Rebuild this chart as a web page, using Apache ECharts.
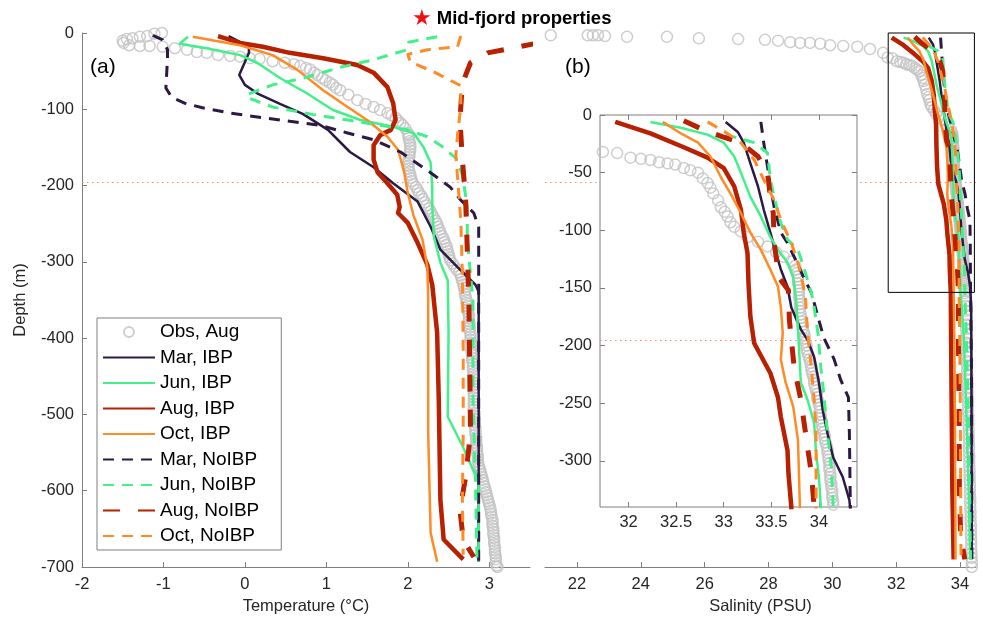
<!DOCTYPE html>
<html>
<head>
<meta charset="utf-8">
<script src="https://cdn.jsdelivr.net/npm/echarts@6/dist/echarts.min.js"></script>
<style>
html,body{margin:0;padding:0;background:#fff;}
#chart{width:983px;height:620px;}
</style>
</head>
<body>
<div id="chart"></div>
<script>
// ---------- Series names ----------
const seriesNames = ['Mar, IBP', 'Jun, IBP', 'Aug, IBP', 'Oct, IBP',
                     'Mar, NoIBP', 'Jun, NoIBP', 'Aug, NoIBP', 'Oct, NoIBP'];
const obsName = 'Obs, Aug';

// ---------- Tick values ----------
const tempTicks = [-2, -1, 0, 1, 2, 3];
const salTicks = [22, 24, 26, 28, 30, 32, 34];
const insetSalTicks = [32, 32.5, 33, 33.5, 34];
const insetDepthTicks = [-300, -250, -200, -150, -100, -50, 0];

// Reference depth (dotted line) and zoom window of the inset
const refDepth = -195;
const zoomBox = [[31.75, 0], [34.45, 0], [34.45, -340], [31.75, -340], [31.75, 0]];

// ---------- Observations, August: [value, depth] ----------
const obsTemp = [
  [-1.02,0],[-1.11,-1],[-1.20,-4],[-1.29,-5],[-1.38,-7],[-1.45,-8],[-1.50,-10],[-1.49,-13],[-1.42,-16],
  [-1.29,-17],[-1.17,-17],[-1.01,-18],[-0.86,-20],[-0.71,-22],[-0.59,-25],[-0.47,-26],[-0.33,-29],
  [-0.18,-30],[-0.06,-31],[0.06,-33],[0.18,-34],[0.34,-37],[0.49,-39],[0.60,-41],[0.68,-43],[0.75,-46],
  [0.80,-48],[0.85,-52],[0.89,-55],[0.95,-59],[0.99,-62],[1.04,-65],[1.08,-68],[1.12,-72],[1.17,-75],
  [1.27,-81],[1.38,-88],[1.48,-93],[1.58,-97],[1.66,-101],[1.75,-105],[1.80,-108],[1.85,-111],
  [1.88,-115],[1.91,-118],[1.94,-121],[1.97,-125],[2.00,-131],
  [2.01,-134],[2.01,-138],[2.02,-142],[2.03,-146],[2.03,-150],[2.03,-154],[2.02,-158],[2.02,-162],
  [2.01,-166],[2.01,-170],[2.01,-174],[2.01,-178],[2.02,-182],[2.03,-186],[2.04,-190],[2.05,-194],
  [2.07,-198],[2.10,-202],[2.12,-206],[2.14,-210],[2.17,-214],[2.19,-218],[2.21,-222],[2.23,-226],
  [2.26,-230],[2.28,-234],[2.30,-238],[2.32,-242],[2.34,-246],[2.36,-250],[2.37,-254],[2.39,-258],
  [2.40,-262],[2.42,-266],[2.44,-270],[2.45,-274],[2.47,-278],[2.48,-282],[2.49,-286],[2.50,-290],
  [2.51,-294],[2.52,-298],[2.55,-302],[2.57,-306],[2.60,-310],[2.63,-314],[2.65,-318],[2.66,-322],
  [2.67,-326],[2.68,-330],[2.69,-334],[2.70,-338],[2.70,-342],[2.71,-346],[2.72,-350],[2.72,-354],
  [2.73,-358],[2.74,-362],[2.74,-366],[2.75,-370],[2.75,-374],[2.75,-378],[2.76,-382],[2.76,-386],
  [2.76,-390],[2.77,-394],[2.77,-398],[2.77,-402],[2.78,-406],[2.78,-410],[2.78,-414],[2.78,-418],
  [2.79,-422],[2.79,-426],[2.79,-430],[2.80,-434],[2.80,-438],[2.80,-442],[2.81,-446],[2.81,-450],
  [2.81,-454],[2.81,-458],[2.81,-462],[2.81,-466],[2.81,-470],[2.81,-474],[2.81,-478],[2.81,-482],
  [2.81,-486],[2.81,-490],[2.81,-494],[2.82,-498],[2.82,-502],[2.82,-506],[2.82,-510],[2.82,-514],
  [2.83,-518],[2.83,-522],[2.83,-526],[2.84,-530],[2.84,-534],[2.84,-538],[2.85,-542],[2.85,-546],
  [2.85,-550],[2.86,-554],[2.86,-558],[2.86,-562],[2.87,-566],[2.88,-570],[2.89,-574],[2.90,-578],
  [2.91,-582],[2.92,-586],[2.93,-590],[2.94,-594],[2.95,-598],[2.96,-602],[2.97,-606],[2.98,-610],
  [2.99,-614],[3.00,-618],[3.01,-622],[3.02,-626],[3.02,-630],[3.03,-634],[3.04,-638],[3.04,-642],
  [3.04,-646],[3.05,-650],[3.05,-654],[3.05,-658],[3.06,-662],[3.06,-666],[3.06,-670],[3.07,-674],
  [3.07,-678],[3.07,-682],[3.08,-686],[3.08,-690],[3.08,-694],[3.09,-698],[3.10,-700]
];

const obsSal = [
  [21.18,-3],[22.34,-3],[22.50,-3],[22.66,-3],[22.88,-4],[23.57,-5],[24.82,-5],[25.82,-7],[27.05,-8],
  [27.89,-9],[28.30,-10],[28.68,-12],[28.99,-13],[29.30,-13],[29.62,-14],[29.93,-16],[30.34,-17],
  [30.78,-18],[31.18,-21],[31.59,-26],
  [31.73,-32],[31.88,-33],[32.02,-37],[32.13,-38],[32.23,-39],[32.32,-41],[32.41,-42],[32.49,-43],
  [32.58,-46],[32.65,-48],[32.73,-50],[32.78,-55],[32.83,-59],[32.86,-63],[32.89,-68],[32.94,-74],
  [32.97,-80],[33.01,-84],[33.04,-88],[33.07,-93],[33.11,-97],[33.18,-101],[33.25,-106],[33.36,-110],
  [33.46,-114],[33.55,-119],[33.63,-123],[33.71,-127],
  [33.75,-131],[33.76,-134],[33.77,-137],[33.78,-140],[33.78,-143],[33.78,-146],[33.79,-149],
  [33.79,-152],[33.79,-155],[33.79,-158],[33.80,-161],[33.80,-164],[33.80,-167],[33.80,-170],
  [33.81,-173],[33.81,-176],[33.82,-179],[33.83,-182],[33.83,-185],[33.84,-188],[33.85,-191],
  [33.85,-194],[33.86,-197],[33.87,-200],[33.87,-203],[33.88,-206],[33.89,-209],[33.90,-212],
  [33.91,-215],[33.92,-218],[33.92,-221],[33.93,-224],[33.94,-227],[33.95,-230],[33.95,-233],
  [33.96,-236],[33.97,-239],[33.98,-242],[33.98,-245],[33.99,-248],[34.00,-251],[34.01,-254],
  [34.01,-257],[34.02,-260],[34.02,-263],[34.03,-266],[34.03,-269],[34.04,-272],[34.05,-275],
  [34.06,-278],[34.06,-281],[34.07,-284],[34.08,-287],[34.09,-290],[34.09,-293],[34.10,-296],
  [34.10,-299],[34.11,-302],[34.11,-305],[34.11,-308],[34.12,-311],[34.12,-314],[34.12,-317],
  [34.13,-320],[34.13,-323],[34.14,-326],[34.14,-329],[34.14,-332],[34.15,-335],[34.15,-338],
  [34.15,-341],
  [34.16,-346],[34.16,-352],[34.17,-358],[34.17,-364],[34.18,-370],[34.18,-376],[34.19,-382],
  [34.19,-388],[34.20,-394],[34.20,-400],[34.20,-406],[34.21,-412],[34.21,-418],[34.21,-424],
  [34.22,-430],[34.22,-436],[34.22,-442],[34.23,-448],[34.23,-454],[34.23,-460],[34.24,-466],
  [34.24,-472],[34.24,-478],[34.25,-484],[34.25,-490],[34.25,-496],[34.26,-502],[34.26,-508],
  [34.26,-514],[34.27,-520],[34.27,-526],[34.27,-532],[34.28,-538],[34.28,-544],[34.28,-550],
  [34.29,-556],[34.29,-562],[34.29,-568],[34.30,-574],[34.30,-580],[34.30,-586],[34.31,-592],
  [34.31,-598],[34.31,-604],[34.32,-610],[34.32,-616],[34.32,-622],[34.33,-628],[34.33,-634],
  [34.33,-640],[34.34,-646],[34.34,-652],[34.34,-658],[34.35,-664],[34.35,-670],[34.35,-676],
  [34.36,-682],[34.36,-688],[34.37,-694],[34.37,-700]
];

// ---------- Model temperature profiles: [T (°C), depth (m)] ----------
const tMarIBP = [[-0.20,-4],[0.05,-18],[0.05,-26],[-0.07,-55],[0.00,-68],[0.15,-79],[0.43,-93],[0.71,-106],
  [1.02,-127],[1.29,-156],[1.58,-176],[1.82,-197],[2.12,-221],[2.28,-254],[2.40,-284],[2.61,-307],
  [2.83,-330],[2.87,-339],[2.87,-693]];
const tJunIBP = [[-0.70,-5],[-0.80,-14],[-0.47,-20],[-0.06,-29],[0.15,-39],[0.43,-59],[0.76,-79],[1.08,-101],
  [1.42,-114],[1.82,-123],[2.07,-131],[2.19,-149],[2.28,-170],[2.30,-202],[2.30,-228],[2.32,-267],
  [2.40,-301],[2.49,-324],[2.50,-393],[2.49,-503],[2.68,-543],[2.87,-590],[2.87,-693]];
const tAugIBP = [[-0.33,-4],[-0.06,-13],[0.22,-18],[0.55,-26],[0.96,-33],[1.38,-42],[1.58,-52],[1.75,-71],
  [1.82,-92],[1.85,-114],[1.79,-127],[1.66,-134],[1.58,-147],[1.58,-166],[1.63,-183],[1.75,-197],
  [1.87,-212],[1.90,-228],[1.88,-236],[2.00,-249],[2.12,-275],[2.24,-304],[2.30,-330],[2.36,-393],
  [2.38,-481],[2.40,-612],[2.44,-664],[2.68,-690]];
const tOctIBP = [[-0.64,-5],[-0.06,-16],[0.34,-29],[0.64,-48],[0.96,-75],[1.26,-97],[1.50,-114],[1.75,-136],
  [1.88,-153],[1.95,-180],[2.00,-210],[2.07,-239],[2.18,-271],[2.24,-307],[2.25,-350],[2.25,-524],
  [2.28,-655],[2.36,-693]];
const tMarNoIBP = [[-1.13,-3],[-1.01,-9],[-0.95,-22],[-0.95,-33],[-0.97,-72],[-0.90,-84],[-0.74,-92],
  [-0.52,-98],[-0.18,-105],[0.22,-111],[0.64,-117],[0.92,-121],[1.26,-131],[1.58,-140],[1.91,-156],
  [2.24,-180],[2.52,-202],[2.65,-219],[2.81,-236],[2.87,-254],[2.87,-311],[2.87,-693]];
const tJunNoIBP = [[2.36,-5],[2.01,-12],[1.99,-22],[1.58,-35],[1.17,-45],[0.76,-58],[0.34,-68],[0.02,-81],
  [0.06,-86],[0.34,-97],[0.84,-107],[1.26,-114],[1.66,-121],[2.00,-127],[2.24,-136],[2.40,-147],
  [2.59,-164],[2.67,-186],[2.73,-228],[2.73,-271],[2.80,-350],[2.80,-481],[2.83,-586],[2.85,-693]];
const tAugNoIBP = [[3.60,-13],[3.23,-21],[2.98,-26],[2.77,-39],[2.67,-66],[2.64,-114],[2.67,-166],
  [2.71,-219],[2.73,-284],[2.75,-350],[2.77,-524],[2.71,-582],[2.64,-625],[2.68,-664],[2.81,-687]];
const tOctNoIBP = [[2.65,-4],[2.61,-18],[2.24,-22],[2.00,-28],[2.03,-38],[2.32,-51],[2.65,-69],[2.65,-97],
  [2.61,-134],[2.59,-160],[2.65,-245],[2.67,-315],[2.68,-415],[2.68,-524],[2.67,-612],[2.68,-684]];

// ---------- Model salinity profiles: [S (PSU), depth (m)] ----------
const sMarIBP = [[33.02,-6],[33.15,-15],[33.21,-24],[33.28,-42],[33.36,-62],[33.42,-82],[33.49,-102],
  [33.55,-120],[33.60,-134],[33.67,-149],[33.71,-167],[33.81,-186],[33.88,-195],[33.95,-210],
  [34.00,-232],[34.04,-256],[34.09,-276],[34.15,-297],[34.25,-314],[34.32,-334],[34.35,-360],
  [34.36,-500],[34.37,-690]];
const sJunIBP = [[32.23,-6],[32.55,-11],[32.83,-17],[33.00,-24],[33.11,-36],[33.18,-50],[33.28,-71],
  [33.39,-88],[33.49,-106],[33.57,-117],[33.67,-128],[33.73,-141],[33.76,-160],[33.78,-186],
  [33.81,-232],[33.88,-247],[33.95,-267],[33.97,-293],[34.00,-314],[34.02,-340],[34.12,-400],
  [34.20,-500],[34.27,-600],[34.32,-690]];
const sAugIBP = [[31.86,-6],[32.23,-16],[32.58,-28],[32.83,-37],[33.00,-46],[33.11,-62],[33.18,-82],
  [33.21,-102],[33.25,-120],[33.26,-146],[33.28,-175],[33.32,-198],[33.49,-224],[33.57,-245],
  [33.60,-262],[33.67,-291],[33.68,-311],[33.71,-340],[33.72,-400],[33.74,-500],[33.76,-600],
  [33.80,-690]];
const sOctIBP = [[32.36,-6],[32.55,-16],[32.73,-24],[32.86,-36],[32.97,-54],[33.07,-68],[33.18,-85],
  [33.28,-102],[33.39,-117],[33.49,-134],[33.57,-149],[33.60,-167],[33.62,-189],[33.60,-212],
  [33.65,-232],[33.73,-253],[33.78,-282],[33.79,-311],[33.80,-340],[33.82,-400],[33.84,-500],
  [33.85,-600],[33.86,-690]];
const sMarNoIBP = [[33.39,-6],[33.42,-24],[33.46,-45],[33.49,-62],[33.53,-80],[33.60,-102],[33.67,-111],
  [33.74,-123],[33.84,-141],[33.92,-154],[33.99,-175],[34.05,-193],[34.16,-212],[34.23,-230],
  [34.31,-245],[34.32,-276],[34.33,-340],[34.36,-450],[34.37,-690]];
const sJunNoIBP = [[33.02,-17],[33.32,-24],[33.46,-33],[33.49,-56],[33.53,-71],[33.60,-94],[33.67,-108],
  [33.78,-117],[33.84,-132],[33.88,-143],[33.92,-154],[33.95,-167],[33.99,-189],[34.02,-219],
  [34.05,-241],[34.09,-276],[34.13,-305],[34.15,-340],[34.20,-400],[34.26,-500],[34.30,-600],
  [34.33,-690]];
const sAugNoIBP = [[32.58,-5],[32.79,-13],[32.99,-19],[33.18,-24],[33.36,-36],[33.46,-50],[33.49,-71],
  [33.52,-85],[33.53,-111],[33.58,-141],[33.68,-152],[33.69,-178],[33.74,-219],[33.81,-247],
  [33.88,-288],[33.92,-310],[33.95,-340],[33.95,-400],[33.97,-500],[33.98,-600],[34.02,-660],
  [34.15,-690]];
const sOctNoIBP = [[32.83,-6],[33.04,-16],[33.18,-24],[33.32,-39],[33.42,-56],[33.53,-74],[33.60,-91],
  [33.71,-111],[33.78,-128],[33.83,-146],[33.86,-160],[33.88,-189],[33.92,-219],[33.95,-247],
  [33.97,-276],[33.97,-340],[33.99,-400],[34.01,-500],[34.02,-600],[34.03,-690]];

const tempProfiles = [tMarIBP, tJunIBP, tAugIBP, tOctIBP, tMarNoIBP, tJunNoIBP, tAugNoIBP, tOctNoIBP];
const salProfiles  = [sMarIBP, sJunIBP, sAugIBP, sOctIBP, sMarNoIBP, sJunNoIBP, sAugNoIBP, sOctNoIBP];

// ---------- Styles ----------
const FONT = '"Liberation Sans", Arial, Helvetica, sans-serif';
const TEXT = '#262626';
const AXIS = '#7f7f7f';
const OBS_GRAY = '#c2c2c2';
const REF_COLOR = '#f28a6e';
const TICK_FS = 16.5;
const C_MAR = '#2c1a45', C_JUN = '#42f08a', C_AUG = '#b72000', C_OCT = '#ff8a26';
const lineStyles = [
  { color: C_MAR, width: 2.5, dash: 'solid' },
  { color: C_JUN, width: 2.5, dash: 'solid' },
  { color: C_AUG, width: 4.5, dash: 'solid' },
  { color: C_OCT, width: 2.5, dash: 'solid' },
  { color: C_MAR, width: 3,   dash: [11, 8] },
  { color: C_JUN, width: 3,   dash: [11, 8] },
  { color: C_AUG, width: 5,   dash: [17, 18] },
  { color: C_OCT, width: 3,   dash: [11, 8] }
];

function profileSeries(i, data, xi, yi, z) {
  const st = lineStyles[i];
  return {
    type: 'line', name: seriesNames[i], data: data,
    xAxisIndex: xi, yAxisIndex: yi, z: z,
    symbol: 'none', showSymbol: false, silent: true, animation: false, clip: true,
    lineStyle: { color: st.color, width: st.width, type: st.dash, cap: 'butt', join: 'round' },
    // transparent item colour keeps the legend swatch a plain line
    itemStyle: { color: 'rgba(0,0,0,0)', borderWidth: 0 }
  };
}

function obsSeries(data, xi, yi, z) {
  return {
    type: 'scatter', name: obsName, data: data,
    xAxisIndex: xi, yAxisIndex: yi, z: z,
    symbol: 'circle', symbolSize: 11, silent: true, animation: false, clip: true,
    itemStyle: { color: 'rgba(255,255,255,0)', borderColor: OBS_GRAY, borderWidth: 1.5 },
    markLine: {
      silent: true, symbol: 'none', z: z, animation: false,
      label: { show: false },
      lineStyle: { color: REF_COLOR, type: [1.5, 3.5], width: 1.2 },
      data: [{ yAxis: refDepth }]
    }
  };
}

function valueAxis(o) {
  return Object.assign({
    type: 'value',
    splitLine: { show: false },
    axisLine: { show: true, onZero: false, lineStyle: { color: AXIS, width: 1 } },
    axisTick: { show: true, inside: true, length: 5, lineStyle: { color: AXIS } },
    axisLabel: { fontSize: TICK_FS, color: TEXT, fontFamily: FONT, margin: 9 },
    nameTextStyle: { fontSize: 16.5, color: TEXT, fontFamily: FONT }
  }, o);
}

function ticks(values) {
  return { show: true, inside: true, length: 5, lineStyle: { color: AXIS }, customValues: values };
}
function labels(values, margin) {
  return { fontSize: TICK_FS, color: TEXT, fontFamily: FONT, margin: margin, customValues: values };
}

const chart = echarts.init(document.getElementById('chart'), null, { renderer: 'canvas' });

const series = [];
// Panel (a): temperature
series.push(obsSeries(obsTemp, 0, 0, 2));
tempProfiles.forEach((d, i) => series.push(profileSeries(i, d, 0, 0, 3)));
// Panel (b): salinity, full depth
series.push(obsSeries(obsSal, 1, 1, 2));
salProfiles.forEach((d, i) => series.push(profileSeries(i, d, 1, 1, 3)));
series.push({
  type: 'line', name: 'zoom window', data: zoomBox, xAxisIndex: 1, yAxisIndex: 1, z: 4,
  symbol: 'none', silent: true, animation: false, clip: false,
  lineStyle: { color: '#000', width: 1 }
});
// Inset: upper 340 m of salinity
series.push(obsSeries(obsSal, 2, 2, 10));
salProfiles.forEach((d, i) => series.push(profileSeries(i, d, 2, 2, 11)));

const option = {
  backgroundColor: '#fff',
  animation: false,
  title: {
    text: '{star|★} {t|Mid-fjord properties}',
    left: 407, top: 3,
    textStyle: {
      rich: {
        star: { color: '#ee1111', fontSize: 22, fontFamily: 'DejaVu Sans' },
        t: { fontSize: 18.5, fontWeight: 'bold', color: '#000', fontFamily: FONT }
      }
    }
  },
  legend: {
    data: [obsName].concat(seriesNames),
    orient: 'vertical', left: 97, top: 318,
    itemWidth: 52, itemHeight: 10, itemGap: 6.5,
    padding: [4.5, 22, 4.5, 5],
    borderColor: AXIS, borderWidth: 1, backgroundColor: '#fff',
    selectedMode: false,
    textStyle: { fontSize: 19, color: '#000', fontFamily: FONT, lineHeight: 19 }
  },
  graphic: [
    { type: 'text', left: 90, top: 57, style: { text: '(a)', fontSize: 21, fill: '#000', fontFamily: FONT } },
    { type: 'text', left: 565, top: 57, style: { text: '(b)', fontSize: 21, fill: '#000', fontFamily: FONT } }
  ],
  grid: [
    { left: 82, top: 33, width: 448, height: 534 },
    { left: 545, top: 33, width: 431, height: 534 },
    { left: 600, top: 115, width: 257, height: 392, show: true, backgroundColor: '#fff',
      borderColor: AXIS, borderWidth: 1, z: 8 }
  ],
  xAxis: [
    valueAxis({ gridIndex: 0, min: -2, max: 3.5, axisTick: ticks(tempTicks), axisLabel: labels(tempTicks, 9),
      name: 'Temperature (°C)', nameLocation: 'middle', nameGap: 30 }),
    valueAxis({ gridIndex: 1, min: 21, max: 34.5, axisTick: ticks(salTicks), axisLabel: labels(salTicks, 9),
      name: 'Salinity (PSU)', nameLocation: 'middle', nameGap: 30 }),
    valueAxis({ gridIndex: 2, min: 31.7, max: 34.4, z: 9, axisLine: { show: false, onZero: false },
      axisTick: ticks(insetSalTicks), axisLabel: labels(insetSalTicks, 7) }),
    valueAxis({ gridIndex: 2, min: 31.7, max: 34.4, position: 'top', z: 9, axisLine: { show: false, onZero: false },
      axisTick: ticks(insetSalTicks), axisLabel: { show: false } })
  ],
  yAxis: [
    valueAxis({ gridIndex: 0, min: -700, max: 0, interval: 100,
      axisLabel: { fontSize: TICK_FS, color: TEXT, fontFamily: FONT, margin: 8 },
      name: 'Depth (m)', nameLocation: 'middle', nameGap: 53, nameRotate: 90 }),
    { type: 'value', gridIndex: 1, min: -700, max: 0, show: false },
    valueAxis({ gridIndex: 2, min: -340, max: 0, z: 9, axisLine: { show: false, onZero: false },
      axisTick: ticks(insetDepthTicks), axisLabel: labels(insetDepthTicks, 8) }),
    valueAxis({ gridIndex: 2, min: -340, max: 0, position: 'right', z: 9, axisLine: { show: false, onZero: false },
      axisTick: ticks(insetDepthTicks), axisLabel: { show: false } })
  ],
  series: series
};

chart.setOption(option);
</script>
</body>
</html>
